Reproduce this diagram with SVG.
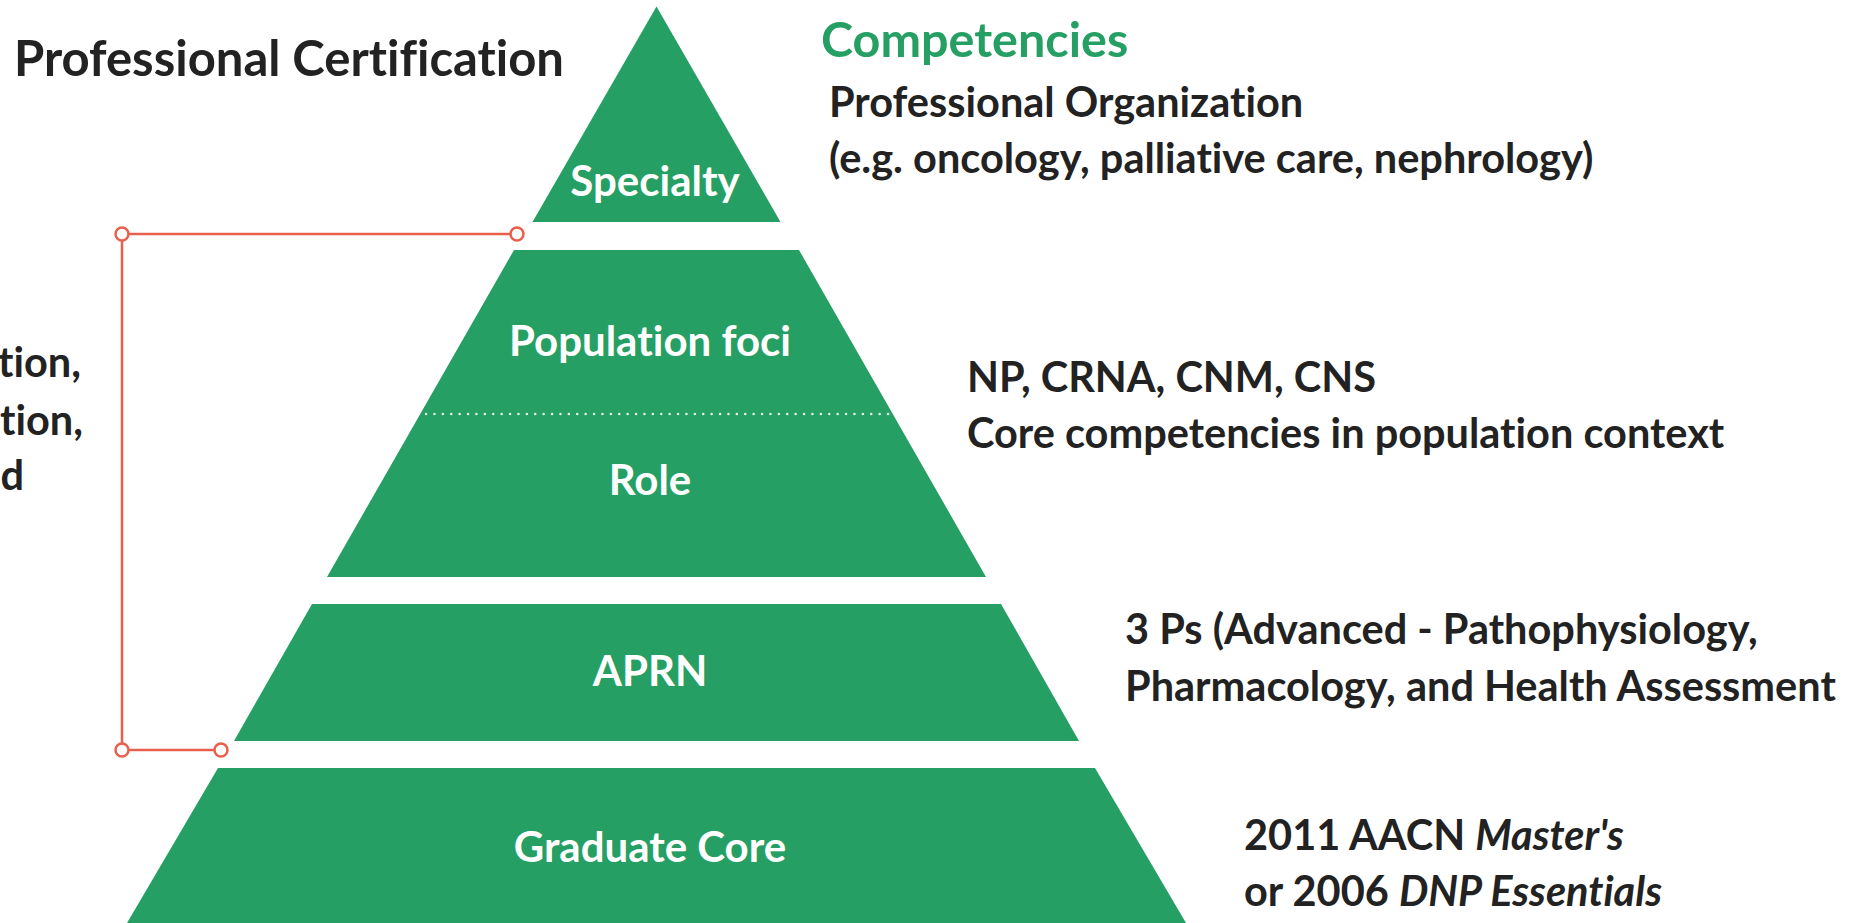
<svg xmlns="http://www.w3.org/2000/svg" width="1865" height="923" viewBox="0 0 1865 923">
  <style>
    text { font-variant-ligatures: none; font-feature-settings: "liga" 0, "dlig" 0; }
    .tier { fill: #259f63; }
    .lbl { font-family: Lato, "Liberation Sans", sans-serif; font-weight: 700; fill: #ffffff; font-size: 42px; text-anchor: middle; }
    .note { font-family: Lato, "Liberation Sans", sans-serif; font-weight: 700; fill: #222222; font-size: 41.5px; }
    .head { font-family: Lato, "Liberation Sans", sans-serif; font-weight: 700; font-size: 48.5px; }
    .title { font-size: 49px; }
    .it { font-style: italic; }
    .link { fill: none; stroke: #e8604c; stroke-width: 2.5; }
    .pin { fill: #ffffff; stroke: #e8604c; stroke-width: 2.5; }
  </style>
  <rect width="1865" height="923" fill="#ffffff"/>

  <text class="head title" x="14" y="76" fill="#222222">Professional Certification</text>
  <text class="head" x="821" y="57" fill="#259f63">Competencies</text>

  <!-- left labels, clipped at the page edge -->
  <g id="side-notes">
    <text class="note" x="81" y="377" text-anchor="end">tion,</text>
    <text class="note" x="83" y="435" text-anchor="end">tion,</text>
    <text class="note" x="24" y="490" text-anchor="end">d</text>
  </g>

  <!-- pyramid tiers: one triangle apex (656.5,6.5), half-width slope 0.578 -->
  <g id="specialty">
    <polygon class="tier" points="656.5,6.5 780.5,222 532.5,222"/>
    <text class="lbl" x="655" y="195.5">Specialty</text>
  </g>
  <g id="population-role">
    <polygon class="tier" points="514,250 799,250 986,577 327,577"/>
    <line x1="426" y1="414" x2="889" y2="414" stroke="#ffffff" stroke-width="2.5" stroke-dasharray="0.1 8.3" stroke-linecap="round" opacity="0.85"/>
    <text class="lbl" x="650" y="355.5">Population foci</text>
    <text class="lbl" x="650" y="495">Role</text>
  </g>
  <g id="aprn">
    <polygon class="tier" points="312,604 1001,604 1079,741 234,741"/>
    <text class="lbl" x="650" y="686">APRN</text>
  </g>
  <g id="graduate-core">
    <polygon class="tier" points="218,768 1095,768 1186,923 127,923"/>
    <text class="lbl" x="650" y="861.5">Graduate Core</text>
  </g>

  <!-- competency notes -->
  <g id="note-specialty">
    <text class="note" x="829" y="116.5">Professional Organization</text>
    <text class="note" x="829" y="172.5">(e.g. oncology, palliative care, nephrology)</text>
  </g>
  <g id="note-population">
    <text class="note" x="967" y="391.5">NP, CRNA, CNM, CNS</text>
    <text class="note" x="967" y="447.5">Core competencies in population context</text>
  </g>
  <g id="note-aprn">
    <text class="note" x="1125" y="644">3 Ps (Advanced - Pathophysiology,</text>
    <text class="note" x="1125" y="701">Pharmacology, and Health Assessment</text>
  </g>
  <g id="note-core">
    <text class="note" x="1244" y="850">2011 AACN <tspan class="it">Master's</tspan></text>
    <text class="note" x="1244" y="906">or 2006 <tspan class="it">DNP Essentials</tspan></text>
  </g>

  <!-- certification bracket -->
  <g id="connectors">
    <polyline class="link" points="517,234 122,234 122,750 221,750"/>
    <circle class="pin" cx="122" cy="234" r="6.5"/>
    <circle class="pin" cx="517" cy="234" r="6.5"/>
    <circle class="pin" cx="122" cy="750" r="6.5"/>
    <circle class="pin" cx="221" cy="750" r="6.5"/>
  </g>
</svg>
